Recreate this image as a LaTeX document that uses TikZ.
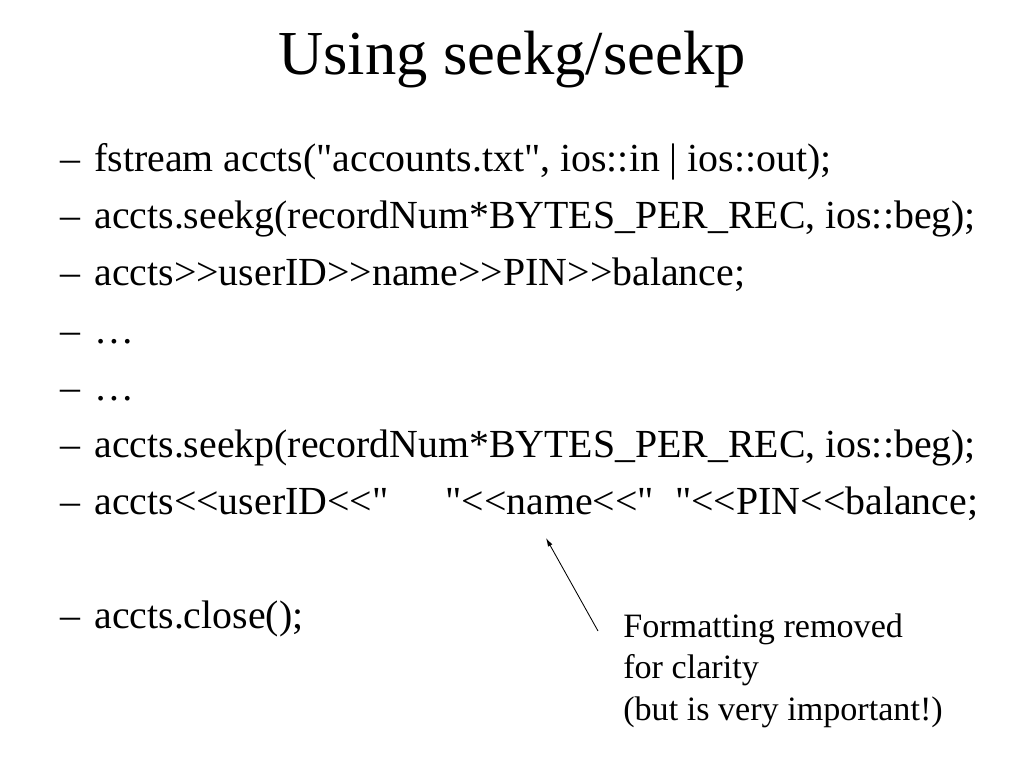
\documentclass[tikz,border=0pt]{standalone}
\usepackage{fontspec}
\usepackage{tikz}
\usetikzlibrary{arrows.meta}
\newfontfamily\slidefont{Liberation Serif}
\newcommand\bul[0]{–\hspace{10pt}}
\tikzset{
  titletext/.style={anchor=base, inner sep=0pt, font=\slidefont\fontsize{44}{53}\selectfont},
  codeline/.style={anchor=base west, inner sep=0pt, font=\slidefont\fontsize{28}{34}\selectfont},
  notetext/.style={anchor=base west, inner sep=0pt, align=left, font=\slidefont\fontsize{24}{29}\selectfont},
}

\begin{document}
\begin{tikzpicture}[x=0.703125pt, y=-0.703125pt]

\useasboundingbox[fill=white] (0,0) rectangle (1024,768);

\node[titletext] (title) at (512,75) {Using seekg/seekp};

\node[codeline] (l1) at (60,172) {\bul fstream accts("accounts.txt", ios::in | ios::out);};
\node[codeline] (l2) at (60,229) {\bul accts.seekg(recordNum*BYTES\_PER\_REC, ios::beg);};
\node[codeline] (l3) at (60,286) {\bul accts>>userID>>name>>PIN>>balance;};
\node[codeline] (l4) at (60,343) {\bul …};
\node[codeline] (l5) at (60,400) {\bul …};
\node[codeline] (l6) at (60,457) {\bul accts.seekp(recordNum*BYTES\_PER\_REC, ios::beg);};
\node[codeline] (l7) at (60,514) {\bul accts<<userID<<"\hspace{40pt}"<<name<<"\hspace{15pt}"<<PIN<<balance;};
\node[codeline] (l8) at (60,628) {\bul accts.close();};

% base of a multi-line node is its last line
\node[notetext] (note) at (623,720) {Formatting removed\\for clarity\\(but is very important!)};

\coordinate (tip) at (546,538);
\coordinate (tail) at (598,631);
\draw[black, line width=0.6pt, -{Latex[length=6pt,width=3.5pt]}] (tail) -- (tip);

\end{tikzpicture}
\end{document}
